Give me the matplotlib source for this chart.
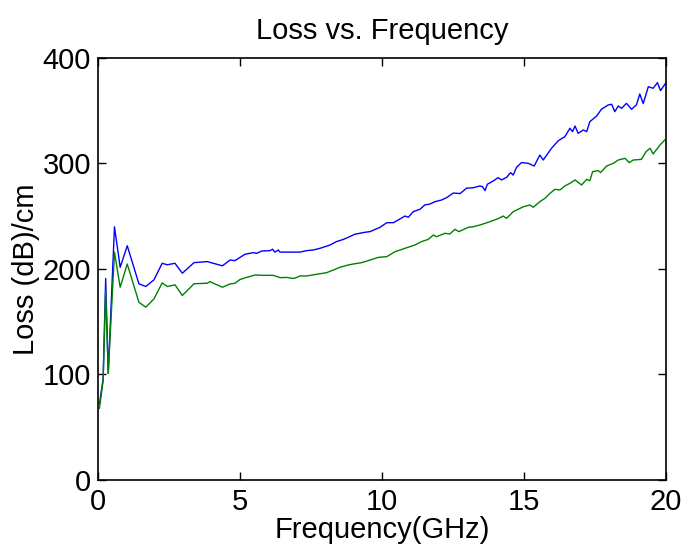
import matplotlib
matplotlib.use("Agg")
import matplotlib.pyplot as plt

plt.rcParams['font.family'] = ['Liberation Sans', 'DejaVu Sans']

# Measured loss of the first line (blue)
freq_a = [0.05, 0.18, 0.27, 0.36, 0.58, 0.78, 1.03, 1.44, 1.68, 1.97, 2.26, 2.44,
          2.71, 2.97, 3.38, 3.85, 4.38, 4.65, 4.82, 5.18, 5.47, 5.59, 5.76, 6.06,
          6.15, 6.23, 6.35, 6.41, 6.76, 7.11, 7.35, 7.58, 7.82, 8.17, 8.40, 8.64,
          8.81, 9.05, 9.23, 9.40, 9.58, 9.93, 10.17, 10.40, 10.57, 10.81, 10.93,
          11.10, 11.34, 11.51, 11.69, 11.87, 12.10, 12.30, 12.51, 12.75, 12.98,
          13.21, 13.45, 13.54, 13.63, 13.71, 13.92, 14.09, 14.21, 14.39, 14.53,
          14.62, 14.74, 14.91, 15.15, 15.36, 15.56, 15.68, 15.97, 16.21, 16.44,
          16.62, 16.71, 16.80, 16.91, 17.09, 17.21, 17.32, 17.56, 17.73, 17.97,
          18.09, 18.20, 18.32, 18.44, 18.61, 18.79, 18.96, 19.08, 19.20, 19.38,
          19.55, 19.70, 19.81, 20.00]
loss_a = [72, 96, 191, 101, 240, 201.6, 222, 186, 183.4, 189.7, 205.4, 204,
          205.4, 196, 206, 207, 203, 208.5, 207.9, 214, 215.5, 214.8, 217, 217.4,
          218.7, 216, 218, 216, 216, 216, 217.4, 218, 219.6, 222.7, 226, 228,
          230, 233, 233.9, 234.8, 235.4, 239.5, 243.9, 243.9, 246.4, 250.2, 249,
          254.3, 256.6, 260.7, 261.6, 263.8, 265.4, 268, 272, 271.5, 276.6,
          277, 278.7, 278, 274.3, 280.3, 283.4, 286.6, 284.4, 286.9, 291.3,
          289, 296.4, 300.8, 300.2, 297.6, 308, 303.3, 314.4, 321.6, 325.4,
          333.4, 330.2, 335.5, 328.6, 331.8, 330.2, 339.6, 345, 351.4, 355.5,
          356.1, 349.1, 354.5, 352.3, 357, 351.4, 355.5, 365.9, 356.8, 372.8,
          371.3, 376.6, 369, 376.6]

# Measured loss of the second line (green)
freq_b = [0.05, 0.18, 0.27, 0.36, 0.58, 0.78, 1.03, 1.44, 1.68, 1.97, 2.26, 2.44,
          2.71, 2.97, 3.38, 3.85, 3.94, 4.38, 4.65, 4.82, 5.00, 5.23, 5.53, 5.82,
          6.17, 6.41, 6.64, 6.88, 7.00, 7.11, 7.35, 7.70, 8.05, 8.35, 8.52, 8.81,
          9.05, 9.28, 9.52, 9.87, 10.17, 10.46, 10.81, 11.16, 11.39, 11.63, 11.81,
          11.92, 12.22, 12.39, 12.57, 12.71, 13.04, 13.21, 13.45, 13.80, 14.09,
          14.27, 14.39, 14.62, 14.98, 15.21, 15.33, 15.56, 15.74, 15.92, 16.09,
          16.27, 16.44, 16.62, 16.80, 17.03, 17.21, 17.32, 17.42, 17.61, 17.70,
          17.91, 18.15, 18.32, 18.56, 18.71, 18.85, 19.14, 19.30, 19.44, 19.55,
          19.79, 19.96]
loss_b = [68, 94, 180, 101, 216, 182.7, 204.7, 168.5, 163.8, 171.6, 186.8, 183.4,
          185, 174.9, 186, 186.5, 188, 182.7, 185.8, 186.4, 190, 192, 194.3, 194,
          194, 191.8, 192, 191, 192, 193.4, 193.4, 195, 196.5, 199.7, 201.6, 203.8,
          205, 206, 207.9, 211, 211.7, 216.4, 219.6, 222.7, 225.9, 228.1, 232.2,
          230.6, 233.8, 233.2, 237.6, 235.4, 239.5, 240, 241.7, 244.8, 247.7,
          250.2, 248, 254.3, 259, 260.7, 258.5, 263.8, 267, 271.7, 275.5,
          274.9, 278.7, 281.2, 284.4, 279.6, 285, 283.7, 292.3, 293.3, 291.4,
          297.6, 300.2, 303.3, 304.9, 300.8, 303.3, 303.9, 311.2, 314.4, 309,
          317.5, 322.3]

x_ticks = [0, 5, 10, 15, 20]
y_ticks = [0, 100, 200, 300, 400]

fig = plt.figure(figsize=(6.83, 5.46), dpi=100)
ax = fig.add_axes([0.1435, 0.1209, 0.8315, 0.7729])

ax.plot(freq_a, loss_a, color='#0000ff', linewidth=1.0)
ax.plot(freq_b, loss_b, color='#008000', linewidth=1.0)

ax.set_xlim(0, 20)
ax.set_ylim(0, 400)
ax.set_xticks(x_ticks)
ax.set_yticks(y_ticks)
ax.tick_params(direction='in', top=True, right=True, length=6, width=1,
               labelsize=21)
ax.tick_params(axis='x', pad=6)
ax.tick_params(axis='y', pad=5)
for s in ax.spines.values():
    s.set_linewidth(1.2)

ax.set_title('Loss vs. Frequency', fontsize=21, pad=14)
ax.set_xlabel('Frequency(GHz)', fontsize=21, labelpad=0)
ax.set_ylabel('Loss (dB)/cm', fontsize=21, labelpad=2)

fig.savefig('out.png', dpi=100, facecolor='white')
